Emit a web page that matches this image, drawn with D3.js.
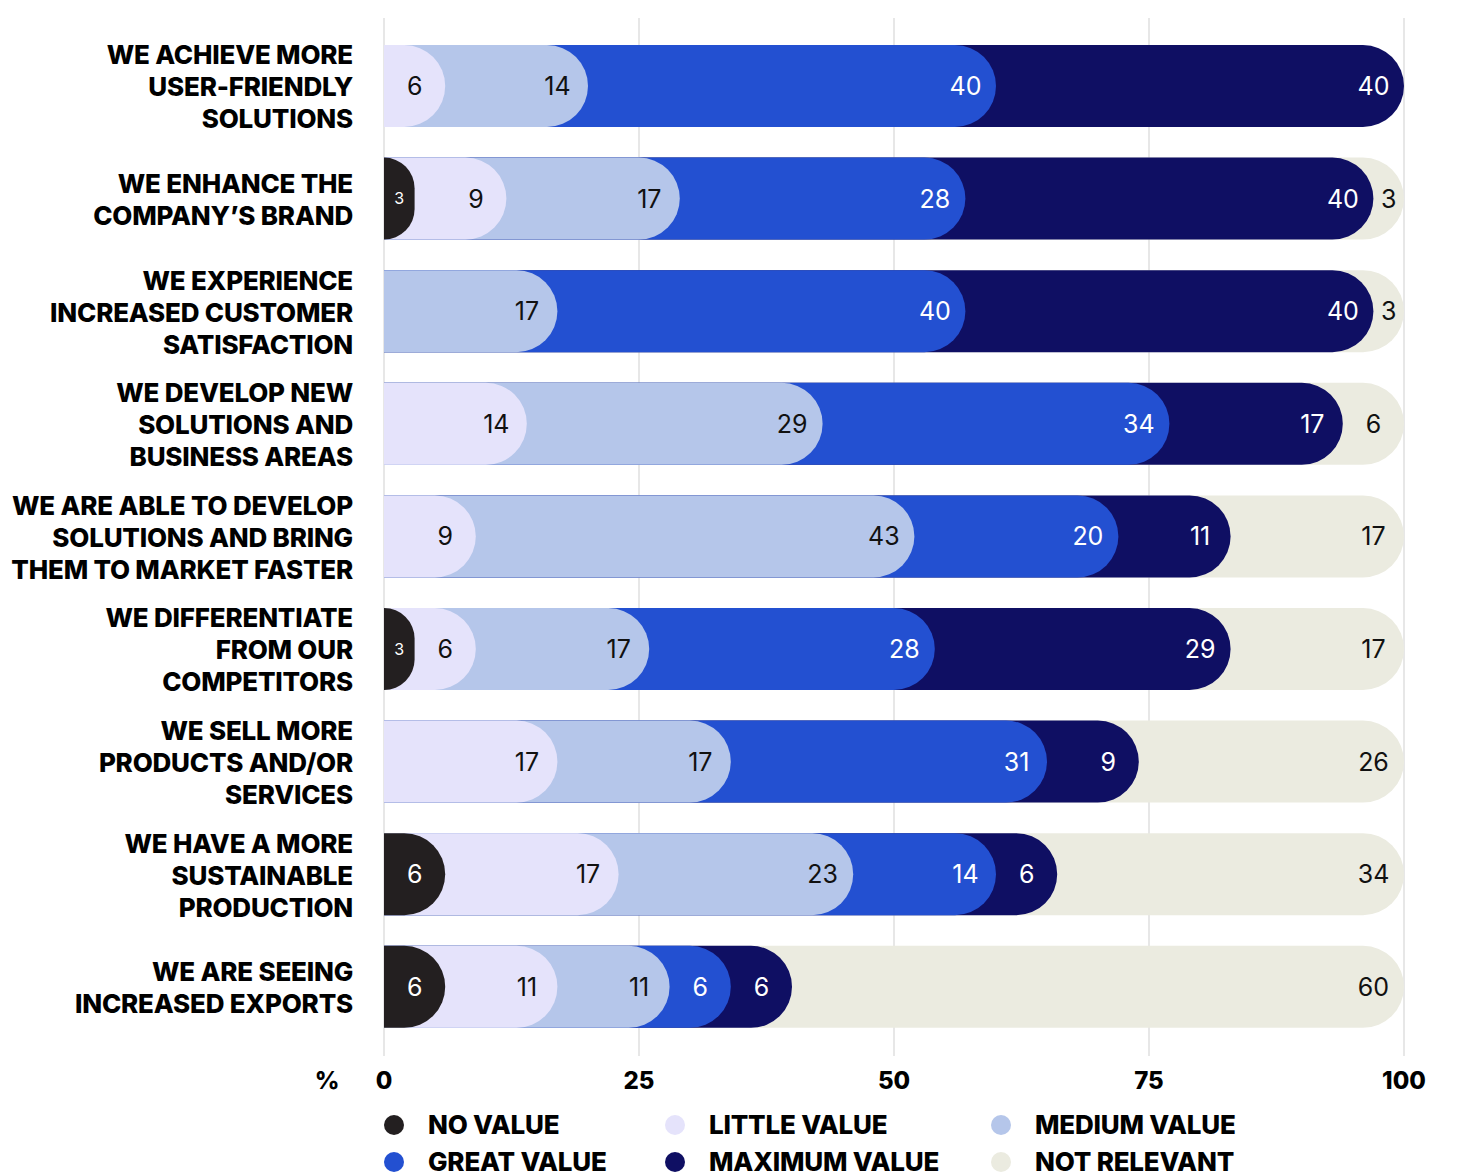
<!DOCTYPE html>
<html>
<head>
<meta charset="utf-8">
<script src="https://cdn.jsdelivr.net/npm/d3@7"></script>
<style>
  body { margin: 0; background: #fff; }
  svg { display: block; font-family: Inter, "Open Sans", sans-serif; }
</style>
</head>
<body>
<div id="drawArea"></div>
<script>
// categories, one line break marker per visual line
const categories = [
  'WE ACHIEVE MORE|USER-FRIENDLY|SOLUTIONS',
  'WE ENHANCE THE|COMPANY\u2019S BRAND',
  'WE EXPERIENCE|INCREASED CUSTOMER|SATISFACTION',
  'WE DEVELOP NEW|SOLUTIONS AND|BUSINESS AREAS',
  'WE ARE ABLE TO DEVELOP|SOLUTIONS AND BRING|THEM TO MARKET FASTER',
  'WE DIFFERENTIATE|FROM OUR|COMPETITORS',
  'WE SELL MORE|PRODUCTS AND/OR|SERVICES',
  'WE HAVE A MORE|SUSTAINABLE|PRODUCTION',
  'WE ARE SEEING|INCREASED EXPORTS'
];
const seriesNames = ['NO VALUE', 'LITTLE VALUE', 'MEDIUM VALUE', 'GREAT VALUE', 'MAXIMUM VALUE', 'NOT RELEVANT'];
const noValue      = [0, 3, 0, 0, 0, 3, 0, 6, 6];
const littleValue  = [6, 9, 0, 14, 9, 6, 17, 17, 11];
const mediumValue  = [14, 17, 17, 29, 43, 17, 17, 23, 11];
const greatValue   = [40, 28, 40, 34, 20, 28, 31, 14, 6];
const maximumValue = [40, 40, 40, 17, 11, 29, 9, 6, 6];
const notRelevant  = [0, 3, 3, 6, 17, 17, 26, 34, 60];
const xTicks = [0, 25, 50, 75, 100];

const series = [noValue, littleValue, mediumValue, greatValue, maximumValue, notRelevant];
const colors = ['#231f20', '#e5e3fb', '#b5c6ea', '#2350d1', '#0f0f63', '#ebebe0'];
const textColors = ['#fff', '#111', '#111', '#fff', '#fff', '#111'];

const W = 1461, H = 1173;
const svg = d3.select('#drawArea').append('svg')
  .attr('width', W).attr('height', H);

const x = d3.scaleLinear().domain([0, 100]).range([384, 1404]);
const y = d3.scaleBand().domain(d3.range(categories.length))
  .range([29.7, 1043.1]).paddingInner(0.272).paddingOuter(0.136);

// grid
svg.append('g').selectAll('line').data(xTicks).join('line')
  .attr('x1', d => x(d)).attr('x2', d => x(d))
  .attr('y1', 18).attr('y2', 1056)
  .attr('stroke', '#cfcfcf').attr('stroke-width', 1);

function capPath(x0, x1, y0, h) {
  const r = Math.min(h / 2, x1 - x0);
  const y1 = y0 + h;
  return `M${x0},${y0}H${x1 - r}A${r},${r} 0 0 1 ${x1},${y0 + r}V${y1 - r}A${r},${r} 0 0 1 ${x1 - r},${y1}H${x0}Z`;
}

// build segments per row
const rows = categories.map((c, i) => {
  let acc = 0;
  const segs = series.map((s, k) => {
    const start = acc;
    acc += s[i];
    return { k, v: s[i], start, end: acc };
  }).filter(d => d.v > 0);
  return { i, segs };
});

const rowG = svg.append('g').selectAll('g').data(rows).join('g')
  .attr('transform', d => `translate(0,${y(d.i)})`);

const bh = y.bandwidth();

rowG.selectAll('path').data(d => d.segs.slice().reverse()).join('path')
  .attr('d', d => capPath(x(0), x(d.end), 0, bh))
  .attr('fill', d => colors[d.k]);

rowG.selectAll('text').data(d => d.segs).join('text')
  .attr('x', d => {
    const w = x(d.end) - x(d.start);
    return x(d.end) - Math.min(w / 2, 30.5);
  })
  .attr('y', bh / 2)
  .attr('dy', '0.36em')
  .attr('text-anchor', 'middle')
  .attr('fill', d => textColors[d.k])
  .attr('font-size', d => (d.k === 0 && x(d.end) - x(d.start) < 40) ? 16 : 25)
  .text(d => d.v);

// category labels
const labG = svg.append('g').selectAll('text').data(categories).join('text')
  .attr('text-anchor', 'end')
  .attr('font-weight', 800)
  .attr('font-size', 26)
  .attr('letter-spacing', -0.2)
  .attr('fill', '#000');
labG.each(function (d, i) {
  const lines = d.split('|');
  const cy = y(i) + bh / 2 + 1;
  d3.select(this).selectAll('tspan').data(lines).join('tspan')
    .attr('x', 353)
    .attr('y', (l, j) => cy + (j - (lines.length - 1) / 2) * 32)
    .attr('dy', '0.36em')
    .text(l => l);
});

// x axis labels
svg.append('g').selectAll('text').data(xTicks).join('text')
  .attr('x', d => x(d)).attr('y', 1089)
  .attr('text-anchor', 'middle')
  .attr('font-weight', 800).attr('font-size', 24)
  .text(d => d);
svg.append('text').attr('x', 327).attr('y', 1089)
  .attr('text-anchor', 'middle')
  .attr('font-weight', 800).attr('font-size', 24)
  .text('%');

// legend
const legX = [394, 675, 1001];
const legY = [1125, 1162];
const leg = svg.append('g').selectAll('g').data(seriesNames).join('g')
  .attr('transform', (d, i) => `translate(${legX[i % 3]},${legY[Math.floor(i / 3)]})`);
leg.append('circle').attr('r', 10).attr('fill', (d, i) => colors[i]);
leg.append('text').attr('x', 34).attr('dy', '0.36em')
  .attr('font-weight', 800).attr('font-size', 26).attr('letter-spacing', -0.2)
  .text(d => d);
</script>
</body>
</html>
